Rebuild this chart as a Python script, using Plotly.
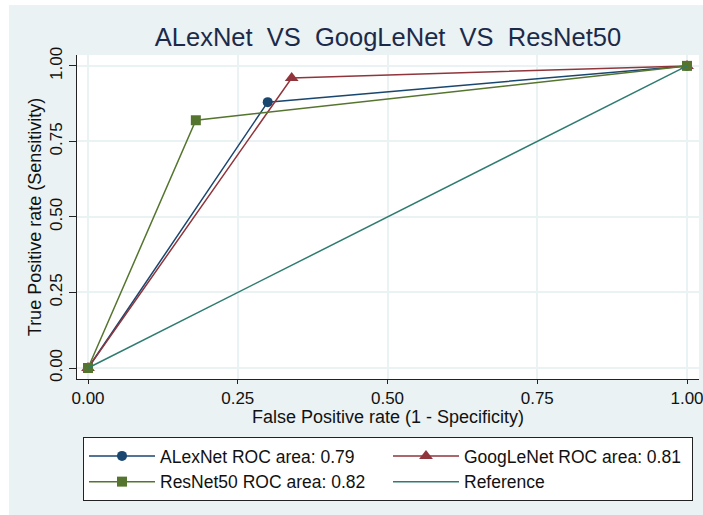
import plotly.graph_objects as go

# Data
alex_fpr = [0.0, 0.30, 1.0]
alex_tpr = [0.0, 0.88, 1.0]
goog_fpr = [0.0, 0.34, 1.0]
goog_tpr = [0.0, 0.96, 1.0]
res_fpr = [0.0, 0.18, 1.0]
res_tpr = [0.0, 0.82, 1.0]
ref_fpr = [0.0, 1.0]
ref_tpr = [0.0, 1.0]

tick_vals = [0, 0.25, 0.5, 0.75, 1.0]
tick_text = ["0.00", "0.25", "0.50", "0.75", "1.00"]

names = ["ALexNet ROC area: 0.79", "GoogLeNet ROC area: 0.81",
         "ResNet50 ROC area: 0.82", "Reference"]

NAVY = "#1a476f"
MAROON = "#90353b"
GREEN = "#55752f"
TEAL = "#2e7b70"
BG = "#eaf2f3"
FONT = "Liberation Sans, Arial, sans-serif"

fig = go.Figure()
fig.add_trace(go.Scatter(x=alex_fpr, y=alex_tpr, mode="lines+markers", name=names[0],
                         line=dict(color=NAVY, width=1.5),
                         marker=dict(symbol="circle", size=10, color=NAVY)))
fig.add_trace(go.Scatter(x=goog_fpr, y=goog_tpr, mode="lines+markers", name=names[1],
                         line=dict(color=MAROON, width=1.5),
                         marker=dict(symbol="triangle-up", size=12, color=MAROON)))
fig.add_trace(go.Scatter(x=res_fpr, y=res_tpr, mode="lines+markers", name=names[2],
                         line=dict(color=GREEN, width=1.5),
                         marker=dict(symbol="square", size=10, color=GREEN)))
fig.add_trace(go.Scatter(x=ref_fpr, y=ref_tpr, mode="lines", name=names[3],
                         line=dict(color=TEAL, width=1.5)))

W, H = 703, 515
L, R, T, B = 77, 4, 55, 136
pw, ph = W - L - R, H - T - B

def px_x(p):
    return (p - L) / pw

def px_y(p):
    return (H - B - p) / ph

axis_common = dict(
    showgrid=True, gridcolor=BG, gridwidth=1.5,
    zeroline=False, showline=True, linecolor="#222222", linewidth=1,
    ticks="outside", tickcolor="#222222", tickwidth=1,
    tickvals=tick_vals, ticktext=tick_text,
    tickfont=dict(family=FONT, size=17, color="#111111"),
    ticklabeloverflow="allow",
    mirror=False,
)

fig.update_layout(
    width=W, height=H,
    margin=dict(l=L, r=R, t=T, b=B, autoexpand=False),
    paper_bgcolor=BG, plot_bgcolor="white",
    title=dict(text="ALexNet\u00a0\u00a0VS\u00a0\u00a0GoogLeNet\u00a0\u00a0VS\u00a0\u00a0ResNet50",
               x=0.5, xref="paper", xanchor="center",
               y=1 - 37 / H, yanchor="middle",
               font=dict(family=FONT, size=25.5, color="#1c2a4a")),
    xaxis=dict(range=[-0.0184, 1.020], ticklen=4, **axis_common),
    yaxis=dict(range=[-0.0364, 1.036], ticklen=7, tickangle=-90,
               title=dict(text="True Positive rate (Sensitivity)", standoff=0,
                          font=dict(family=FONT, size=18, color="#111111")),
               **axis_common),
    annotations=[
        dict(text="False Positive rate (1 - Specificity)", xref="paper", yref="paper",
             x=0.5, y=px_y(417), xanchor="center", yanchor="middle", showarrow=False,
             font=dict(family=FONT, size=18, color="#111111")),
    ],
    showlegend=True,
    legend=dict(orientation="h", x=px_x(83), xanchor="left", y=px_y(437), yanchor="top",
                bgcolor="white", bordercolor="#222222", borderwidth=1,
                font=dict(family=FONT, size=17.5, color="#111111"),
                entrywidth=223, entrywidthmode="pixels", itemwidth=66,
                traceorder="normal"),
    shapes=[
        dict(type="rect", xref="paper", yref="paper", x0=px_x(-5), x1=px_x(9),
             y0=px_y(520), y1=px_y(-5), fillcolor="white", line=dict(width=0), layer="below"),
        dict(type="rect", xref="paper", yref="paper", x0=px_x(-5), x1=px_x(710),
             y0=px_y(5), y1=px_y(-5), fillcolor="white", line=dict(width=0), layer="below"),
    ],
)

fig.write_html("out.html", config={"displayModeBar": False},
               post_script="document.body.style.margin='0';")
